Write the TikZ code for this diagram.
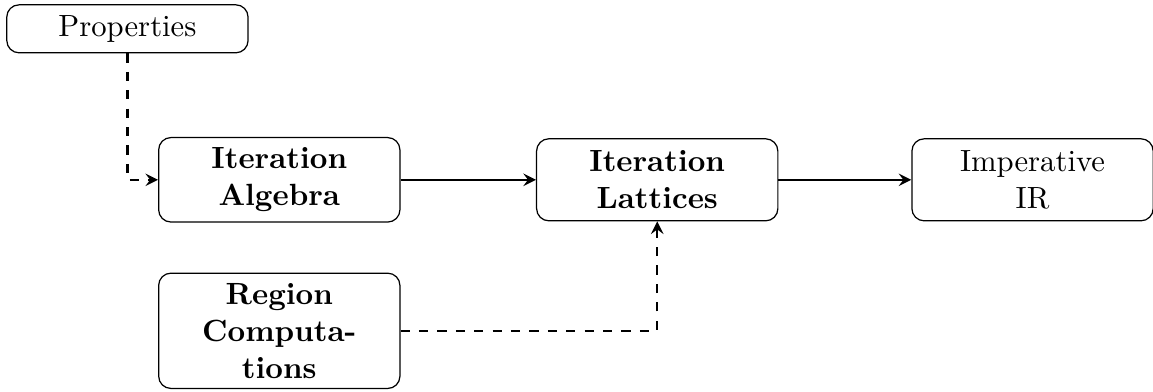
\documentclass[tikz,border=0pt]{standalone}

\tikzset{
  box/.style={draw, rounded corners, align=center, text width=2.53cm, minimum height=0.94cm},
  flow/.style={thick, ->, >=stealth},
  side/.style={thick, dashed, ->, >=stealth},
}

\begin{document}
\begin{tikzpicture}
\useasboundingbox (0,0) rectangle (13.21,-4.49);
\node[box, minimum height=0.55cm] (prop) at (1.46,-0.33) {Properties};
\node[box, font=\bfseries] (alg) at (3.2,-2.06) {Iteration Algebra};
\node[box, font=\bfseries] (lat) at (7.53,-2.06) {Iteration Lattices};
\node[box] (imp) at (11.83,-2.06) {Imperative\\IR};
\node[box, font=\bfseries] (reg) at (3.2,-3.79) {Region\\Computa-\\tions};
\draw[flow] (alg) -- (lat);
\draw[flow] (lat) -- (imp);
\draw[side] (prop) |- (alg);
\draw[side] (reg) -| (lat);
\end{tikzpicture}
\end{document}
